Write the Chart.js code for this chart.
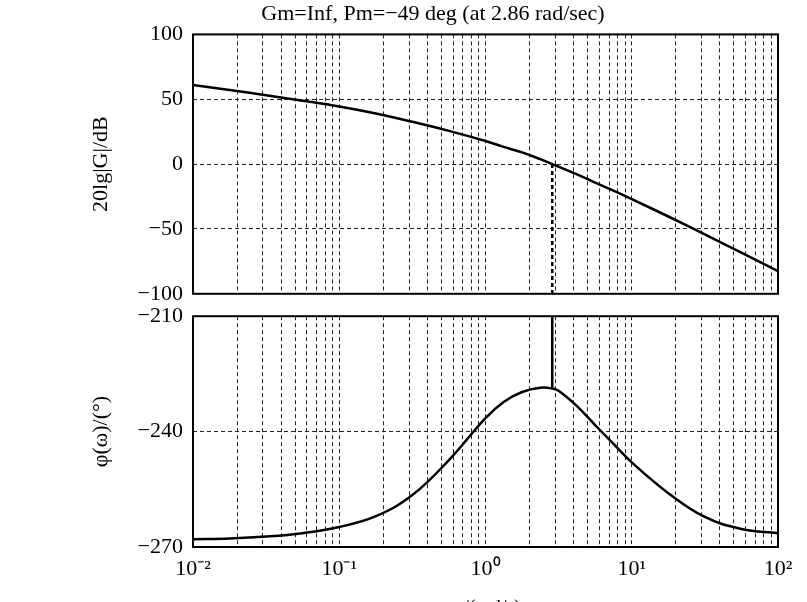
<!DOCTYPE html>
<html>
<head>
<meta charset="utf-8">
<script src="https://cdn.jsdelivr.net/npm/chart.js@4.4.0/dist/chart.umd.min.js"></script>
<style>
html, body { margin: 0; padding: 0; background: #fff; overflow: hidden; width: 807px; height: 602px; }
#magChart { position: absolute; left: 0; top: 0; z-index: 2; }
#phaseChart { position: absolute; left: 0; top: 293px; z-index: 1; }
</style>
</head>
<body>
<canvas id="magChart" width="807" height="317"></canvas>
<canvas id="phaseChart" width="807" height="331"></canvas>
<script>
// Frequency points (rad/s)
const omega = [0.01, 0.0178, 0.0316, 0.0562, 0.1, 0.178, 0.316, 0.562, 1, 1.33, 1.78, 2.37, 2.86, 3.16, 4.22, 5.62, 7.5, 10, 17.8, 31.6, 56.2, 100];
// 20lg|G| in dB
const magnitude = [61, 57.1, 53.1, 48.9, 44.4, 39, 32.6, 25.6, 17.8, 13.3, 9, 3.8, 0, -1.9, -8, -14.2, -20.5, -27, -40.4, -54.2, -68.3, -82.5];
// phase in degrees
const phase = [-268, -267.8, -267.3, -266.4, -264.8, -262, -256.5, -247.4, -236.5, -232.3, -229.7, -228.6, -228.8, -229.4, -233.4, -238.3, -243.2, -248, -256, -262.2, -265.3, -266.4];

const magTicks = [100, 50, 0, -50, -100];
const phaseTicks = [-210, -240, -270];
const decadeLabels = ['10⁻²', '10⁻¹', '10⁰', '10¹', '10²'];

const pmFreq = 2.86;
const pmPhase = -228.8;
const titleText = 'Gm=Inf, Pm=\u221249 deg (at 2.86 rad/sec)';

const serif = "'Liberation Serif', 'Times New Roman', serif";

function toPoints(ys) {
    return omega.map((w, i) => ({ x: w, y: ys[i] }));
}

// all 1..9 x 10^k ticks so every minor gridline is drawn
function logTicks(scale) {
    const t = [];
    for (let e = -2; e < 2; e++) {
        for (let m = 1; m < 10; m++) t.push({ value: m * Math.pow(10, e) });
    }
    t.push({ value: 100 });
    scale.ticks = t;
}

function decadeLabel(value) {
    const lg = Math.log10(value);
    const r = Math.round(lg);
    if (Math.abs(lg - r) > 1e-6) return '';
    return decadeLabels[r + 2];
}

const framePlugin = {
    id: 'frame',
    afterDraw(chart) {
        const a = chart.chartArea;
        const ctx = chart.ctx;
        ctx.save();
        ctx.strokeStyle = '#000';
        ctx.lineWidth = 2;
        ctx.strokeRect(a.left, a.top, a.right - a.left, a.bottom - a.top);
        ctx.restore();
    }
};

const gridStyle = { color: '#222', lineWidth: 1, drawTicks: false };
const borderStyle = { display: false, dash: [4, 3] };

function xAxis(showLabels) {
    return {
        type: 'logarithmic',
        min: 0.01,
        max: 100,
        grid: gridStyle,
        border: borderStyle,
        afterBuildTicks: logTicks,
        ticks: {
            display: showLabels,
            autoSkip: false,
            maxRotation: 0,
            padding: 9,
            color: '#000',
            font: { family: serif, size: 22 },
            callback: (v) => decadeLabel(v)
        },
        title: {
            display: showLabels,
            text: '\u03c9/(rad/s)',
            color: '#000',
            font: { family: serif, size: 20 },
            padding: { top: 0, bottom: 0 }
        },
        afterFit: (s) => { s.height = showLabels ? 74 : 0; }
    };
}

function yAxis(min, max, tickList, label) {
    return {
        min: min,
        max: max,
        grid: gridStyle,
        border: borderStyle,
        afterBuildTicks: (s) => { s.ticks = tickList.map(v => ({ value: v })); },
        ticks: {
            padding: 10,
            color: '#000',
            font: { family: serif, size: 22 },
            callback: (v) => String(v).replace('-', '\u2212')
        },
        title: {
            display: true,
            text: label,
            color: '#000',
            font: { family: serif, size: 22 },
            padding: { top: 0, bottom: 0 }
        },
        afterFit: (s) => { s.width = 105; }
    };
}

new Chart(document.getElementById('magChart'), {
    type: 'line',
    data: {
        datasets: [{
            data: toPoints(magnitude),
            borderColor: '#000',
            borderWidth: 2.5,
            pointRadius: 0,
            tension: 0.4
        }, {
            data: [{ x: pmFreq, y: 0 }, { x: pmFreq, y: -100 }],
            borderColor: '#000',
            borderWidth: 2.5,
            borderDash: [4, 3],
            pointRadius: 0
        }]
    },
    options: {
        responsive: false,
        animation: false,
        layout: { padding: { left: 88, right: 29, top: 1, bottom: 5 } },
        plugins: {
            legend: { display: false },
            tooltip: { enabled: false },
            title: {
                display: true,
                text: titleText,
                color: '#000',
                font: { family: serif, size: 22, weight: 'normal' },
                padding: { top: 0, bottom: 7 }
            }
        },
        scales: {
            x: xAxis(false),
            y: yAxis(-100, 100, magTicks, '20lg|G|/dB')
        }
    },
    plugins: [framePlugin]
});

new Chart(document.getElementById('phaseChart'), {
    type: 'line',
    data: {
        datasets: [{
            data: toPoints(phase),
            borderColor: '#000',
            borderWidth: 2.5,
            pointRadius: 0,
            tension: 0.4
        }, {
            data: [{ x: pmFreq, y: pmPhase }, { x: pmFreq, y: -210 }],
            borderColor: '#000',
            borderWidth: 2.5,
            pointRadius: 0
        }]
    },
    options: {
        responsive: false,
        animation: false,
        layout: { padding: { left: 88, right: 29, top: 3, bottom: 3 } },
        plugins: {
            legend: { display: false },
            tooltip: { enabled: false }
        },
        scales: {
            x: xAxis(true),
            y: yAxis(-270, -210, phaseTicks, '\u03c6(\u03c9)/(\u00b0)')
        }
    },
    plugins: [framePlugin]
});
</script>
</body>
</html>
